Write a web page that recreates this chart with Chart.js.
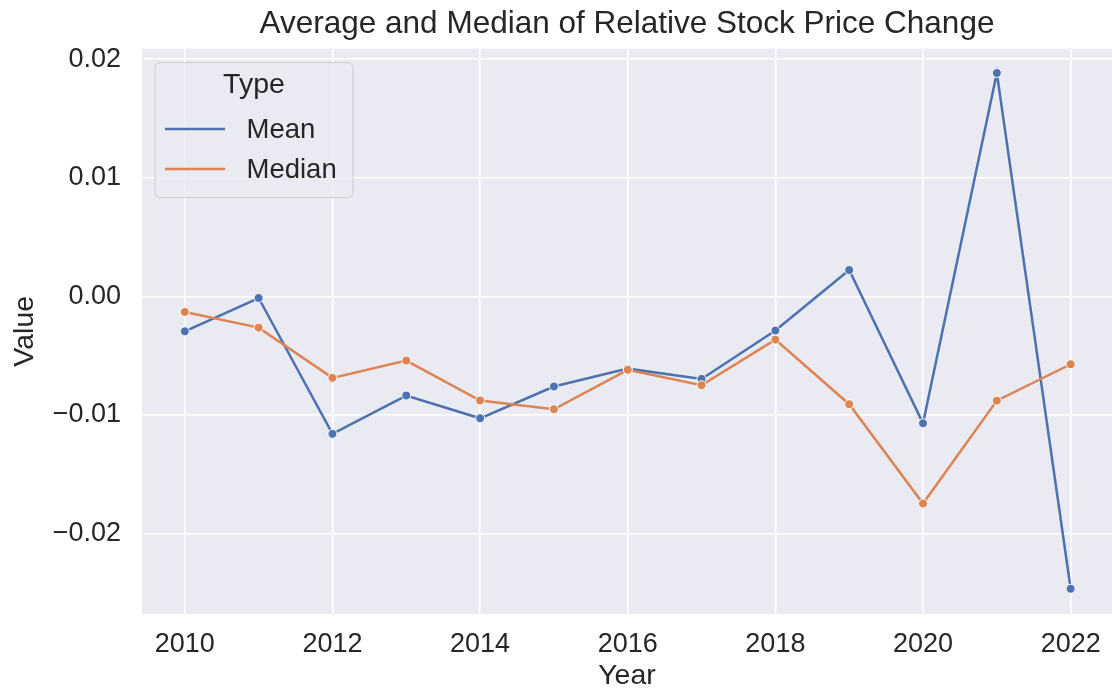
<!DOCTYPE html>
<html>
<head>
<meta charset="utf-8">
<script src="https://cdn.jsdelivr.net/npm/chart.js@4.4.1/dist/chart.umd.min.js"></script>
<style>
  html, body { margin: 0; padding: 0; background: #ffffff; }
  #wrap { width: 1112px; height: 693px; position: relative; }
</style>
</head>
<body>
<div id="wrap"><canvas id="c" width="1112" height="693"></canvas></div>
<script>
const years = [2010, 2011, 2012, 2013, 2014, 2015, 2016, 2017, 2018, 2019, 2020, 2021, 2022];
const meanValues = [-0.00295, -0.00014, -0.0116, -0.00837, -0.01029, -0.00761, -0.0061, -0.00697, -0.00289, 0.00222, -0.01071, 0.01884, -0.02467];
const medianValues = [-0.00132, -0.00264, -0.00688, -0.00542, -0.00879, -0.00953, -0.0062, -0.0075, -0.00365, -0.0091, -0.01748, -0.0088, -0.00573];
const seriesLabels = ['Mean', 'Median'];
const legendTitle = 'Type';
const chartTitle = 'Average and Median of Relative Stock Price Change';
const xTitle = 'Year';
const yTitle = 'Value';

const FONT = "'Liberation Sans', Arial, sans-serif";
const TEXT = '#262626';
const COLORS = ['#4c72b0', '#dd8452'];

const toPoints = (vals) => years.map((y, i) => ({ x: y, y: vals[i] }));

const plotBg = {
  id: 'plotBg',
  beforeDraw(chart) {
    const { ctx, chartArea: a } = chart;
    ctx.save();
    ctx.fillStyle = '#eaeaf2';
    ctx.fillRect(a.left, a.top, a.right - a.left, a.bottom - a.top);
    ctx.restore();
  }
};

const boxLegend = {
  id: 'boxLegend',
  afterDraw(chart) {
    const { ctx, chartArea: a } = chart;
    const x0 = a.left + 13, y0 = a.top + 14, w = 198, h = 135, r = 5;
    ctx.save();
    ctx.beginPath();
    ctx.moveTo(x0 + r, y0);
    ctx.lineTo(x0 + w - r, y0);
    ctx.arcTo(x0 + w, y0, x0 + w, y0 + r, r);
    ctx.lineTo(x0 + w, y0 + h - r);
    ctx.arcTo(x0 + w, y0 + h, x0 + w - r, y0 + h, r);
    ctx.lineTo(x0 + r, y0 + h);
    ctx.arcTo(x0, y0 + h, x0, y0 + h - r, r);
    ctx.lineTo(x0, y0 + r);
    ctx.arcTo(x0, y0, x0 + r, y0, r);
    ctx.closePath();
    ctx.fillStyle = 'rgba(234,234,242,0.8)';
    ctx.fill();
    ctx.strokeStyle = '#cccccc';
    ctx.lineWidth = 1;
    ctx.stroke();

    ctx.fillStyle = TEXT;
    ctx.textBaseline = 'middle';
    ctx.textAlign = 'center';
    ctx.font = '28.5px ' + FONT;
    ctx.fillText(legendTitle, x0 + w / 2, y0 + 23);

    ctx.font = '27.5px ' + FONT;
    ctx.textAlign = 'left';
    chart.data.datasets.forEach((ds, i) => {
      const cy = y0 + 66.5 + i * 40;
      ctx.strokeStyle = ds.borderColor;
      ctx.lineWidth = 2.5;
      ctx.beginPath();
      ctx.moveTo(x0 + 10, cy);
      ctx.lineTo(x0 + 70, cy);
      ctx.stroke();
      ctx.fillStyle = TEXT;
      ctx.fillText(ds.label, x0 + 91.5, cy + 1);
    });
    ctx.restore();
  }
};

new Chart(document.getElementById('c'), {
  type: 'line',
  data: {
    datasets: [
      {
        label: seriesLabels[0],
        data: toPoints(meanValues),
        borderColor: COLORS[0],
        backgroundColor: COLORS[0],
        pointBackgroundColor: COLORS[0],
        pointBorderColor: '#ffffff',
        pointBorderWidth: 1,
        pointRadius: 4.5,
        borderWidth: 2.5,
        tension: 0,
        order: 2
      },
      {
        label: seriesLabels[1],
        data: toPoints(medianValues),
        borderColor: COLORS[1],
        backgroundColor: COLORS[1],
        pointBackgroundColor: COLORS[1],
        pointBorderColor: '#ffffff',
        pointBorderWidth: 1,
        pointRadius: 4.5,
        borderWidth: 2.5,
        tension: 0,
        order: 1
      }
    ]
  },
  options: {
    responsive: false,
    animation: false,
    devicePixelRatio: 1,
    layout: { padding: 0, autoPadding: false },
    plugins: {
      legend: { display: false },
      tooltip: { enabled: false },
      title: {
        display: true,
        text: chartTitle,
        fullSize: false,
        color: TEXT,
        font: { family: FONT, size: 31.5, weight: 'normal', lineHeight: 1.2 },
        padding: { top: 5, bottom: 5.8 }
      }
    },
    scales: {
      x: {
        type: 'linear',
        min: 2009.42,
        max: 2022.56,
        border: { display: false },
        grid: { color: '#ffffff', lineWidth: 1.6, drawTicks: false },
        ticks: {
          stepSize: 2,
          includeBounds: false,
          padding: 14,
          color: TEXT,
          font: { family: FONT, size: 27 },
          maxRotation: 0,
          callback: (v) => String(v)
        },
        title: {
          display: true,
          text: xTitle,
          color: TEXT,
          font: { family: FONT, size: 28.5, lineHeight: 1.2 },
          padding: { top: 0, bottom: 0 }
        },
        afterFit(scale) {
          scale.height = 79;
          scale.paddingLeft = 0;
          scale.paddingRight = 0;
        }
      },
      y: {
        type: 'linear',
        min: -0.0268,
        max: 0.0209,
        border: { display: false },
        grid: { color: '#ffffff', lineWidth: 1.6, drawTicks: false },
        ticks: {
          stepSize: 0.01,
          includeBounds: false,
          padding: 21,
          color: TEXT,
          font: { family: FONT, size: 27 },
          callback: (v) => (v < -1e-9 ? '\u2212' : '') + Math.abs(v).toFixed(2)
        },
        title: {
          display: true,
          text: yTitle,
          color: TEXT,
          font: { family: FONT, size: 28.5, lineHeight: 1.2 },
          padding: { top: 8, bottom: 0 }
        },
        afterFit(scale) {
          scale.width = 142;
          scale.paddingTop = 0;
          scale.paddingBottom = 0;
        }
      }
    }
  },
  plugins: [plotBg, boxLegend]
});
</script>
</body>
</html>
